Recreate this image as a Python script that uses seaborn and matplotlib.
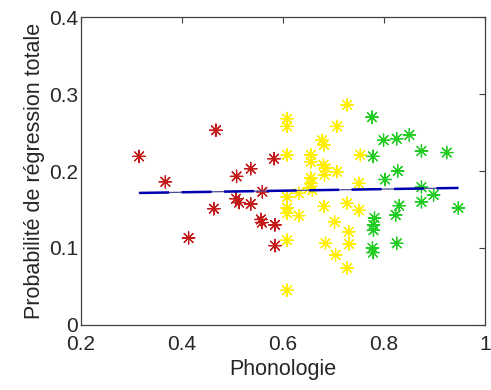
import numpy as np
import pandas as pd
import seaborn as sns
from matplotlib import pyplot as plt

# Groupes (rouge / jaune / vert) : Phonologie vs probabilité de régression totale
red_x = [0.315, 0.367, 0.413, 0.467, 0.463, 0.508, 0.536, 0.582, 0.559, 0.507,
         0.513, 0.536, 0.556, 0.558, 0.584, 0.584]
red_y = [0.219, 0.186, 0.113, 0.253, 0.151, 0.193, 0.203, 0.216, 0.173, 0.164,
         0.159, 0.157, 0.137, 0.133, 0.130, 0.103]

yellow_x = [0.608, 0.608, 0.727, 0.707, 0.677, 0.681, 0.608, 0.655, 0.655, 0.680,
            0.684, 0.682, 0.707, 0.753, 0.750, 0.655, 0.655, 0.652, 0.658, 0.631,
            0.608, 0.608, 0.608, 0.631, 0.681, 0.727, 0.750, 0.702, 0.730, 0.608,
            0.684, 0.731, 0.704, 0.727, 0.608]
yellow_y = [0.268, 0.258, 0.286, 0.258, 0.240, 0.234, 0.221, 0.221, 0.212, 0.208,
            0.204, 0.195, 0.199, 0.221, 0.184, 0.191, 0.184, 0.178, 0.175, 0.171,
            0.166, 0.152, 0.145, 0.142, 0.154, 0.158, 0.149, 0.134, 0.121, 0.110,
            0.106, 0.105, 0.091, 0.074, 0.045]

green_x = [0.776, 0.799, 0.825, 0.850, 0.874, 0.924, 0.778, 0.827, 0.802, 0.874,
           0.874, 0.898, 0.947, 0.830, 0.823, 0.781, 0.779, 0.779, 0.777, 0.778,
           0.825]
green_y = [0.270, 0.240, 0.242, 0.247, 0.226, 0.224, 0.219, 0.200, 0.189, 0.179,
           0.160, 0.169, 0.152, 0.155, 0.143, 0.139, 0.130, 0.123, 0.100, 0.094,
           0.106]

# droite de régression (extrémités)
fit_x = [0.315, 0.947]
fit_y = [0.1715, 0.178]

df = pd.DataFrame({
    'x': red_x + yellow_x + green_x,
    'y': red_y + yellow_y + green_y,
    'groupe': ['r'] * len(red_x) + ['j'] * len(yellow_x) + ['v'] * len(green_x),
})
palette = {'r': '#c41a1a', 'j': '#ffee00', 'v': '#22cc22'}

sns.set_style('white')
plt.rcParams['font.family'] = ['Liberation Sans', 'DejaVu Sans']

fig = plt.figure(figsize=(4.91, 3.90), dpi=100)
ax = fig.add_axes([0.165, 0.167, 0.823, 0.789])

sns.scatterplot(data=df, x='x', y='y', hue='groupe', palette=palette,
                marker=(8, 2, 0), s=80, linewidth=0.9, legend=False, ax=ax)

fit = pd.DataFrame({'x': fit_x, 'y': fit_y})
sns.lineplot(data=fit, x='x', y='y', color='#4a4a9a', linewidth=0.9, ax=ax)
ax.plot(fit_x, fit_y, color='#0000b0', linewidth=1.8, dashes=(12, 5))

ax.set_xlim(0.2, 1)
ax.set_ylim(0, 0.4)
ax.set_xticks([0.2, 0.4, 0.6, 0.8, 1])
ax.set_xticklabels(['0.2', '0.4', '0.6', '0.8', '1'])
ax.set_yticks([0, 0.1, 0.2, 0.3, 0.4])
ax.set_yticklabels(['0', '0.1', '0.2', '0.3', '0.4'])
ax.tick_params(direction='in', length=4, width=0.8, color='#404040',
               top=True, right=True, labelsize=15, pad=2)
ax.tick_params(axis='x', pad=7)
for sp in ax.spines.values():
    sp.set_color('#404040')
    sp.set_linewidth(0.9)

ax.set_xlabel('Phonologie', fontsize=15.5, labelpad=4)
ax.set_ylabel('Probabilité de régression totale', fontsize=15.5, labelpad=3)

plt.savefig('out.png', dpi=100)
